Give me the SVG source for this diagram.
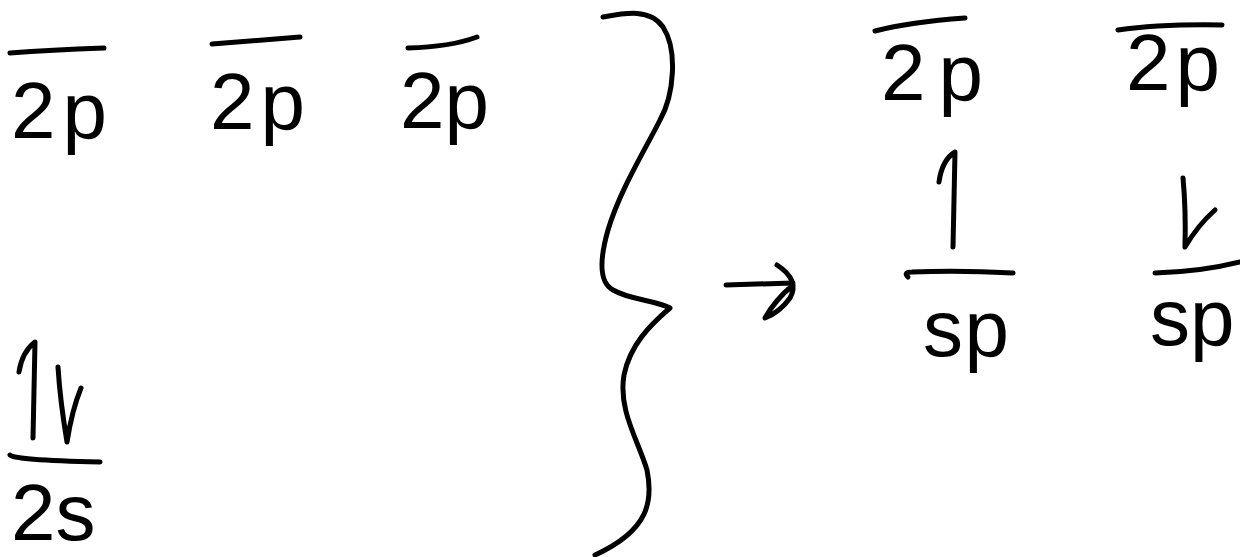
<svg xmlns="http://www.w3.org/2000/svg" width="1240" height="557" viewBox="0 0 1240 557">
<style>
.ink{fill:none;stroke:#000;stroke-width:5;stroke-linecap:round;stroke-linejoin:round}
.lbl{font-family:"Liberation Sans",Arial,sans-serif;font-size:80px;fill:#000}
</style>
<rect width="1240" height="557" fill="#fff"/>
<g id="p2a">
<path class="ink" d="M10,53 Q50,50 104,48"/>
<text class="lbl" x="11" y="138" textLength="96" lengthAdjust="spacing">2p</text>
</g>
<g id="p2b">
<path class="ink" d="M212,44 Q250,41 300,37"/>
<text class="lbl" x="210" y="129" textLength="95" lengthAdjust="spacing">2p</text>
</g>
<g id="p2c">
<path class="ink" d="M408,48 Q450,47 477,37"/>
<text class="lbl" x="400" y="128" font-size="76">2p</text>
</g>
<g id="s2">
<path class="ink" d="M10,455 Q12,460 100,462"/>
<path class="ink" d="M33,438 L35,342 Q22,352 19,372"/>
<path class="ink" d="M58,367 Q60,400 67,442 Q72,410 81,388"/>
<text class="lbl" x="11" y="540" font-size="72">2s</text>
</g>
<g id="brace">
<path class="ink" d="M603,17 C625,13 650,8 663,27 C678,50 674,95 660,120 C645,150 620,190 608,230 C600,258 598,282 613,290 C630,300 655,300 670,308 C650,325 630,345 624,375 C618,410 638,440 647,470 C653,500 650,530 595,555"/>
</g>
<g id="p2d">
<path class="ink" d="M875,31 Q910,22 965,18"/>
<text class="lbl" x="881" y="100" textLength="102" lengthAdjust="spacing">2p</text>
</g>
<g id="p2e">
<path class="ink" d="M1118,30 Q1160,24 1222,25"/>
<text class="lbl" x="1126" y="90" font-size="70" textLength="94" lengthAdjust="spacing">2p</text>
</g>
<g id="sp1">
<path class="ink" d="M953,247 L955,152 Q942,160 939,182"/>
<path class="ink" d="M908,277 Q903,272 912,272 Q960,270 1013,273"/>
<text class="lbl" x="923" y="356" font-size="84" textLength="86" lengthAdjust="spacing">sp</text>
</g>
<g id="sp2">
<path class="ink" d="M1183,178 Q1186,210 1185,247 Q1198,225 1215,210"/>
<path class="ink" d="M1155,273 Q1200,272 1240,262"/>
<text class="lbl" x="1150" y="345" font-size="80">sp</text>
</g>
<g id="connectors">
<path class="ink" d="M726,285 L793,283"/>
<path class="ink" d="M777,265 Q800,280 790,298 Q780,312 765,318 Q775,300 793,285"/>
</g>
</svg>
